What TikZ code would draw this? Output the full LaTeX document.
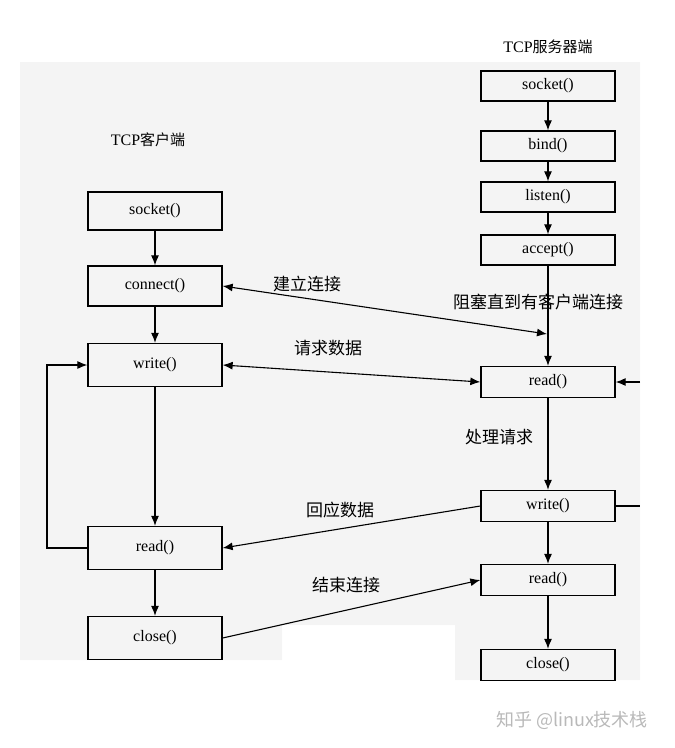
\documentclass[tikz,border=0pt]{standalone}
\usepackage{fontspec}
\setmainfont{Liberation Serif}
\newfontfamily\cjk{Noto Sans CJK SC}
\usetikzlibrary{arrows.meta}
\begin{document}
\begin{tikzpicture}[x=1pt,y=-1pt,
  box/.style={draw,line width=1.3pt,minimum width=134pt,inner sep=0pt,font=\fontsize{16}{16}\selectfont},
  lbl/.style={font=\cjk\fontsize{17}{17}\selectfont,inner sep=0pt},
  ar/.style={-{Latex[length=10pt,width=8pt]},line width=1.1pt},
  dar/.style={{Latex[length=10pt,width=8pt]}-{Latex[length=10pt,width=8pt]},line width=1.1pt}]
\useasboundingbox (0,0) rectangle (675,748);
\fill[gray!9] (20,62) -- (640,62) -- (640,680) -- (455,680) -- (455,625) -- (282,625) -- (282,660) -- (20,660) -- cycle;
% client
\node[box,minimum height=38pt] (cs) at (155,211) {socket()};
\node[box,minimum height=40pt] (cc) at (155,286) {connect()};
\node[box,minimum height=43pt] (cw) at (155,365) {write()};
\node[box,minimum height=43pt] (cr) at (155,548) {read()};
\node[box,minimum height=43pt] (cx) at (155,638) {close()};
% server
\node[box,minimum height=30pt] (ss) at (548,86) {socket()};
\node[box,minimum height=30pt] (sb) at (548,146) {bind()};
\node[box,minimum height=30pt] (sl) at (548,197) {listen()};
\node[box,minimum height=30pt] (sa) at (548,250) {accept()};
\node[box,minimum height=31pt] (sr) at (548,382) {read()};
\node[box,minimum height=31pt] (sw) at (548,506) {write()};
\node[box,minimum height=31pt] (sr2) at (548,580) {read()};
\node[box,minimum height=31pt] (sx) at (548,665) {close()};
% titles
\node[font=\fontsize{16}{16}\selectfont] (t1) at (548,47) {TCP{\cjk\fontsize{15}{15}\selectfont 服务器端}};
\node[font=\fontsize{16}{16}\selectfont] (t2) at (148,140) {TCP{\cjk\fontsize{15}{15}\selectfont 客户端}};
\node[lbl] (l1) at (307,284) {建立连接};
\node[lbl] (l2) at (538,302) {阻塞直到有客户端连接};
\node[lbl] (l3) at (328,348) {请求数据};
\node[lbl] (l4) at (499,437) {处理请求};
\node[lbl] (l5) at (340,510) {回应数据};
\node[lbl] (l6) at (346,585) {结束连接};
\node[lbl,text=gray!55,font=\cjk\fontsize{18}{18}\selectfont] (wm) at (572,720) {知乎 @linux技术栈};
% client flow
\draw[ar] (cs) -- (cc);
\draw[ar] (cc) -- (cw);
\draw[ar] (cw) -- (cr);
\draw[ar] (cr) -- (cx);
\coordinate (la) at (47,548);
\coordinate (lb) at (47,365);
\draw[ar] (cr.west) -- (la) -- (lb) -- (cw.west);
% server flow
\draw[ar] (ss) -- (sb);
\draw[ar] (sb) -- (sl);
\draw[ar] (sl) -- (sa);
\draw[ar] (sa) -- (sr);
\draw[ar] (sr) -- (sw);
\draw[ar] (sw) -- (sr2);
\draw[ar] (sr2) -- (sx);
\coordinate (hit) at (547,334);
\coordinate (rin) at (640,382);
\coordinate (wout) at (640,506);
\draw[ar] (rin) -- (sr.east);
\draw[line width=1.1pt] (sw.east) -- (wout);
% exchanges
\draw[dar] (cc.east) -- (hit);
\draw[dar] (cw.east) -- (sr.west);
\draw[ar] (sw.west) -- (cr.east);
\draw[ar] (cx.east) -- (sr2.west);
\end{tikzpicture}
\end{document}
